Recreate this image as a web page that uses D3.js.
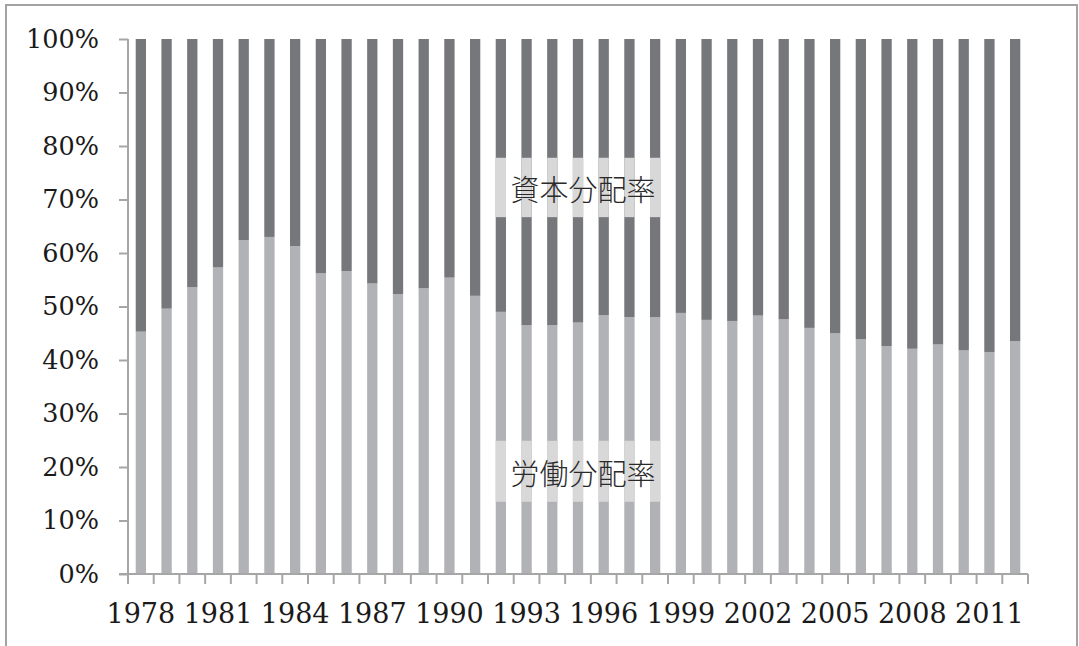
<!DOCTYPE html>
<html>
<head>
<meta charset="utf-8">
<script src="https://cdn.jsdelivr.net/npm/d3@7/dist/d3.min.js"></script>
<style>
  html, body { margin: 0; padding: 0; background: #fff; }
  svg { display: block; }
</style>
</head>
<body>
<svg id="chart" width="1079" height="646"></svg>
<script>
// Labour share of income by year (%); capital share is the remainder to 100%.
const years = d3.range(1978, 2013);
const laborShare = [
  45.3, 49.6, 53.6, 57.3, 62.4, 63.0, 61.3, 56.2, 56.6, 54.3,
  52.3, 53.4, 55.4, 52.0, 49.0, 46.5, 46.5, 47.0, 48.4, 48.0,
  48.0, 48.8, 47.5, 47.3, 48.3, 47.6, 46.0, 45.0, 43.9, 42.6,
  42.1, 42.9, 41.8, 41.5, 43.5
];
const capitalShare = laborShare.map(v => 100 - v);
const yTicks = [0, 10, 20, 30, 40, 50, 60, 70, 80, 90, 100];
const xLabelYears = years.filter(y => (y - 1978) % 3 === 0);

// Series labels: text, value range of the label band, years it spans
const seriesLabels = [
  { text: "資本分配率", top: 77.8, bottom: 66.7, from: 1992, to: 1998 },
  { text: "労働分配率", top: 24.9, bottom: 13.5, from: 1992, to: 1998 }
];

const svg = d3.select("#chart");
const W = 1079, H = 646;
const margin = { left: 128, right: 51, top: 39, bottom: 72 };

// outer frame
svg.append("rect")
  .attr("x", 6).attr("y", 5)
  .attr("width", 1071).attr("height", 660)
  .attr("fill", "#fff")
  .attr("stroke", "#a3a3a3").attr("stroke-width", 2);

const x = d3.scaleBand()
  .domain(years)
  .range([margin.left, W - margin.right])
  .paddingInner(0.6).paddingOuter(0.3);

const y = d3.scaleLinear()
  .domain([0, 100])
  .range([H - margin.bottom, margin.top]);

const darkColor = "#76777b";
const lightColor = "#b1b2b6";
const bandColor = "#d8d8d9";

const g = svg.append("g");

// labour share (bottom segment)
g.selectAll("rect.labor")
  .data(years)
  .join("rect")
  .attr("class", "labor")
  .attr("x", d => x(d))
  .attr("width", x.bandwidth())
  .attr("y", (d, i) => y(laborShare[i]))
  .attr("height", (d, i) => y(0) - y(laborShare[i]))
  .attr("fill", lightColor);

// capital share (top segment)
g.selectAll("rect.capital")
  .data(years)
  .join("rect")
  .attr("class", "capital")
  .attr("x", d => x(d))
  .attr("width", x.bandwidth())
  .attr("y", (d, i) => y(laborShare[i] + capitalShare[i]))
  .attr("height", (d, i) => y(laborShare[i]) - y(laborShare[i] + capitalShare[i]))
  .attr("fill", darkColor);

// label bands lightening the bars behind each series name
seriesLabels.forEach(lab => {
  const span = years.filter(yr => yr >= lab.from && yr <= lab.to);
  g.selectAll(null)
    .data(span)
    .join("rect")
    .attr("x", d => x(d))
    .attr("width", x.bandwidth())
    .attr("y", y(lab.top))
    .attr("height", y(lab.bottom) - y(lab.top))
    .attr("fill", bandColor);
  const cx = (x(lab.from) + x(lab.to) + x.bandwidth()) / 2 + 5;
  g.append("text")
    .attr("x", cx)
    .attr("y", (y(lab.top) + y(lab.bottom)) / 2 + 1)
    .attr("text-anchor", "middle")
    .attr("dominant-baseline", "central")
    .attr("font-family", "'Noto Sans CJK JP', 'Noto Sans CJK SC', sans-serif")
    .attr("font-weight", 300)
    .attr("font-size", 29)
    .attr("fill", "#2a2a2a")
    .text(lab.text);
});

const axisColor = "#a6a6a6";
const step = x.step();
const x0 = margin.left, x1 = W - margin.right;

// y axis
const yAxis = svg.append("g")
  .attr("transform", `translate(${x0},0)`)
  .call(d3.axisLeft(y).tickValues(yTicks).tickSize(9).tickPadding(20)
    .tickFormat(d => d + "%"));
yAxis.select(".domain").attr("stroke", axisColor).attr("stroke-width", 2)
  .attr("d", `M0,${y(0)}V${y(100)}`);
yAxis.selectAll(".tick line").attr("stroke", axisColor).attr("stroke-width", 2);
yAxis.selectAll(".tick text")
  .attr("font-family", "'DejaVu Serif', serif")
  .attr("font-size", 25.5)
  .attr("fill", "#1a1a1a");

// x axis: baseline with ticks on category boundaries
const xAxis = svg.append("g").attr("transform", `translate(0,${y(0)})`);
xAxis.append("line")
  .attr("x1", x0 - 9).attr("x2", x1)
  .attr("stroke", axisColor).attr("stroke-width", 2);
const boundaries = years.map(yr => x(yr) - (step - x.bandwidth()) / 2).concat([x1]);
xAxis.selectAll("line.tk")
  .data(boundaries)
  .join("line")
  .attr("class", "tk")
  .attr("x1", d => d).attr("x2", d => d)
  .attr("y1", 0).attr("y2", 10)
  .attr("stroke", axisColor).attr("stroke-width", 2);
xAxis.selectAll("text")
  .data(xLabelYears)
  .join("text")
  .attr("x", d => x(d) + x.bandwidth() / 2)
  .attr("y", 49)
  .attr("text-anchor", "middle")
  .attr("font-family", "'DejaVu Serif', serif")
  .attr("font-size", 27)
  .attr("fill", "#1a1a1a")
  .text(d => d);
</script>
</body>
</html>
